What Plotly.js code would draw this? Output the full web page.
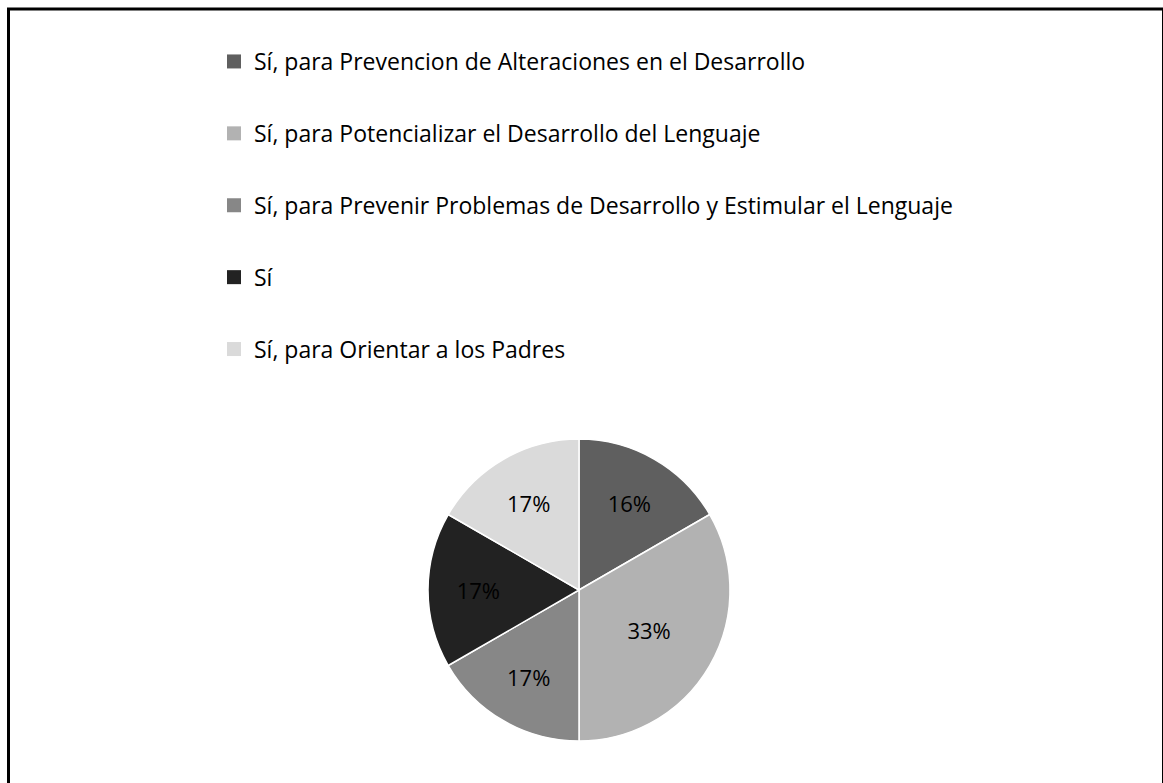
<!DOCTYPE html>
<html>
<head>
<meta charset="utf-8">
<script src="https://cdn.plot.ly/plotly-3.0.1.min.js"></script>
<style>html,body{margin:0;padding:0;background:#fff;}#chart{width:1163px;height:783px;}</style>
</head>
<body>
<div id="chart"></div>
<script>
const categories = [
  "Sí, para Prevencion de Alteraciones en el Desarrollo",
  "Sí, para Potencializar el Desarrollo del Lenguaje",
  "Sí, para Prevenir Problemas de Desarrollo y Estimular el Lenguaje",
  "Sí",
  "Sí, para Orientar a los Padres"
];
const counts = [1, 2, 1, 1, 1];
const percentLabels = ["16%", "33%", "17%", "17%", "17%"];
const colors = ["#5f5f5f", "#b2b2b2", "#878787", "#222222", "#dadada"];

const W = 1163, H = 783;
const FONT = "'Open Sans', 'Noto Sans', sans-serif";

const traces = [{
  type: "pie",
  labels: categories,
  values: counts,
  text: percentLabels,
  textinfo: "text",
  textposition: "inside",
  insidetextorientation: "horizontal",
  textfont: {family: FONT, size: 22, color: "#000000"},
  sort: false,
  direction: "clockwise",
  rotation: 0,
  marker: {colors: colors, line: {color: "#ffffff", width: 1.5}},
  domain: {x: [428 / W, 730 / W], y: [42 / H, 344 / H]},
  showlegend: false,
  hoverinfo: "label+text"
}];

categories.forEach((c, i) => {
  traces.push({
    type: "scatter",
    mode: "markers",
    x: [null], y: [null],
    name: c,
    legendgroup: "g" + i,
    marker: {symbol: "square", size: 14, color: colors[i]},
    showlegend: true,
    hoverinfo: "skip"
  });
});

const layout = {
  width: W, height: H,
  margin: {l: 0, r: 0, t: 0, b: 0},
  paper_bgcolor: "#ffffff",
  plot_bgcolor: "#ffffff",
  font: {family: FONT, color: "#000000"},
  xaxis: {visible: false, domain: [0, 1]},
  yaxis: {visible: false, domain: [0, 1]},
  showlegend: true,
  legend: {
    x: 214 / W, xanchor: "left",
    y: 1 - 40 / H, yanchor: "top",
    font: {family: FONT, size: 23, color: "#000000"},
    tracegroupgap: 39,
    bgcolor: "rgba(0,0,0,0)",
    itemclick: false, itemdoubleclick: false
  },
  shapes: [{
    type: "rect", xref: "paper", yref: "paper",
    x0: 8.5 / W, x1: 1163.5 / W, y0: -0.02, y1: 1 - 9 / H,
    line: {color: "#000000", width: 3}, fillcolor: "rgba(0,0,0,0)", layer: "above"
  }]
};

Plotly.newPlot("chart", traces, layout, {displayModeBar: false, staticPlot: true});
</script>
</body>
</html>
